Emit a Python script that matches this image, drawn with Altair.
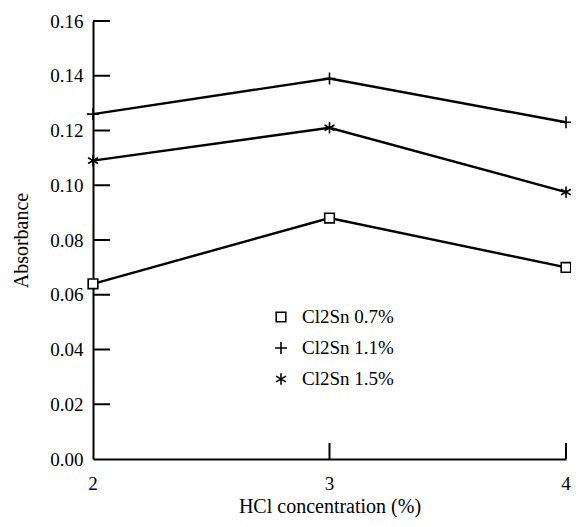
import altair as alt
import pandas as pd

# ---- data ----
hcl = [2, 3, 4]
series_names = ["Cl2Sn 0.7%", "Cl2Sn 1.1%", "Cl2Sn 1.5%"]
abs_07 = [0.064, 0.088, 0.070]
abs_11 = [0.126, 0.139, 0.123]
abs_15 = [0.109, 0.121, 0.0975]

y_ticks = [0.00, 0.02, 0.04, 0.06, 0.08, 0.10, 0.12, 0.14, 0.16]
x_ticks = [2, 3, 4]

rows = []
for name, vals in zip(series_names, [abs_07, abs_11, abs_15]):
    for x, v in zip(hcl, vals):
        rows.append({"hcl": x, "absorbance": v, "series": name})
df = pd.DataFrame(rows)

ytick_df = pd.DataFrame({"absorbance": y_ticks[1:]})
xtick_df = pd.DataFrame({"hcl": x_ticks[1:]})
xlabel_df = pd.DataFrame({"hcl": x_ticks, "label": [str(t) for t in x_ticks]})
legend_df = pd.DataFrame({"series": series_names, "row": list(range(len(series_names)))})

FONT = "Liberation Serif"
W, H = 473, 438

x_scale = alt.Scale(domain=[2, 4], nice=False, zero=False)
y_scale = alt.Scale(domain=[0, 0.16], nice=False)

square_path = "M-0.8,-0.8H0.8V0.8H-0.8Z"
plus_path = "M-1,0H1M0,-1V1"
star_path = "M0,-0.95V0.95M-0.82,-0.47L0.82,0.47M-0.82,0.47L0.82,-0.47"

shape_scale = alt.Scale(domain=series_names, range=[square_path, plus_path, star_path])

x_axis = alt.Axis(values=x_ticks, title="HCl concentration (%)",
                  grid=False, ticks=False, labels=False, domainColor="black", domainWidth=2,
                  titleFont=FONT, titleFontSize=20, titleFontWeight="normal",
                  titleColor="black", titlePadding=37)
y_axis = alt.Axis(values=y_ticks, format=".2f", title="Absorbance",
                  grid=False, ticks=False, domainColor="black", domainWidth=2,
                  labelOverlap=False, labelFlush=False,
                  labelFont=FONT, labelFontSize=19, labelColor="black", labelPadding=10,
                  titleFont=FONT, titleFontSize=20, titleFontWeight="normal",
                  titleColor="black", titlePadding=18)


def X():
    return alt.X("hcl:Q", scale=x_scale, axis=x_axis)


def Y():
    return alt.Y("absorbance:Q", scale=y_scale, axis=y_axis)


def S():
    return alt.Shape("series:N", scale=shape_scale, sort=series_names, legend=None)


lines = alt.Chart(df).mark_line(color="black", strokeWidth=2.4).encode(
    x=X(), y=Y(), detail="series:N"
)

# white backing so lines do not show through the open squares
backing = alt.Chart(df).mark_point(filled=True, color="white", size=144, opacity=1).encode(
    x=X(), y=Y(), shape=S()
)

points = alt.Chart(df).mark_point(filled=False, color="black",
                                  strokeWidth=1.6, size=144, opacity=1).encode(
    x=X(), y=Y(), shape=S()
)

ytick_rules = alt.Chart(ytick_df).mark_rule(color="black", strokeWidth=2).encode(
    y=Y(), x=alt.value(0), x2=alt.value(17)
)
xtick_rules = alt.Chart(xtick_df).mark_rule(color="black", strokeWidth=2).encode(
    x=X(), y=alt.value(H), y2=alt.value(H - 16)
)
xtick_labels = alt.Chart(xlabel_df).mark_text(
    font=FONT, fontSize=19, color="black", align="center", baseline="alphabetic"
).encode(x=X(), y=alt.value(H + 31), text="label:N")

main = alt.layer(lines, ytick_rules, xtick_rules, xtick_labels, backing, points)

# legend drawn inside the plot, rows 31 px apart
legend_base = alt.Chart(legend_df).transform_calculate(py="296 + 31 * datum.row")
LY = alt.Y("py:Q", scale=None, axis=None)
legend_back = legend_base.mark_point(filled=True, color="white", size=144, opacity=1).encode(
    x=alt.value(188), y=LY, shape=S()
)
legend_sym = legend_base.mark_point(filled=False, color="black", strokeWidth=1.6,
                                    size=144, opacity=1).encode(
    x=alt.value(188), y=LY, shape=S()
)
legend_txt = legend_base.mark_text(font=FONT, fontSize=19, color="black",
                                   align="left", baseline="middle").encode(
    x=alt.value(209), y=LY, text="series:N"
)
legend_layer = alt.layer(legend_back, legend_sym, legend_txt)

chart = alt.layer(main, legend_layer).resolve_scale(y="independent").properties(
    width=W, height=H,
    autosize=alt.AutoSizeParams(type="none"),
    padding={"left": 85, "top": 13, "right": 5, "bottom": 66},
    background="white",
).configure_view(stroke=None)

chart.save("out.html", embed_options={"renderer": "svg", "actions": False})
